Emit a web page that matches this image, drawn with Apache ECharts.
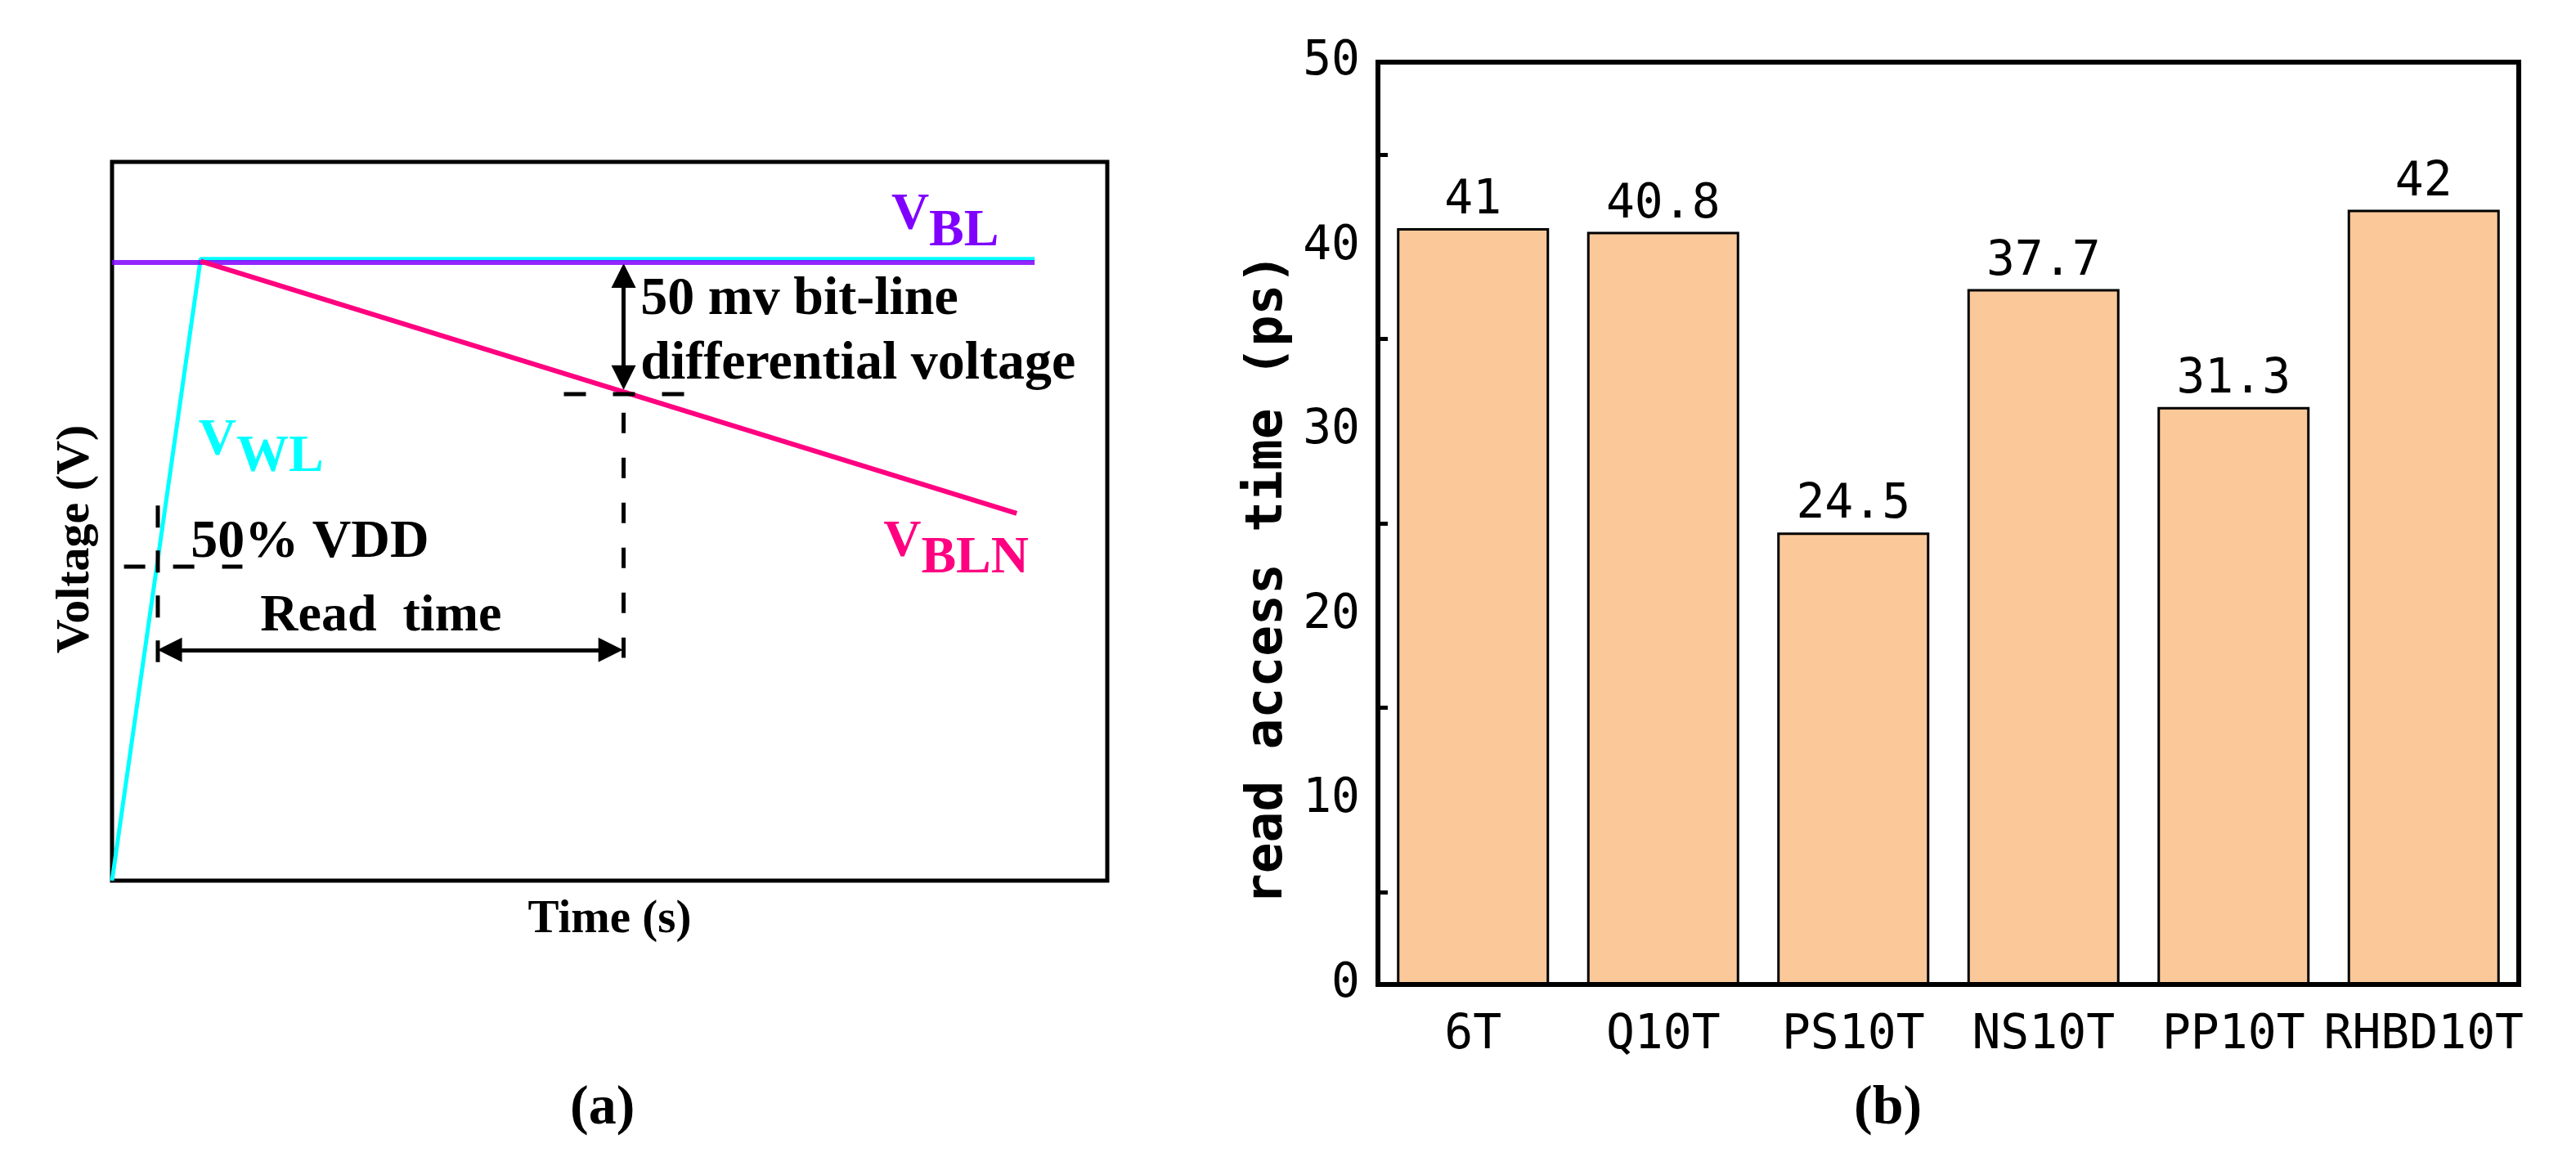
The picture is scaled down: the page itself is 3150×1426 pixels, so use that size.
<!DOCTYPE html>
<html>
<head>
<meta charset="utf-8">
<title>Read time / read access time</title>
<script src="https://cdn.jsdelivr.net/npm/echarts@6/dist/echarts.min.js"></script>
<style>html,body{margin:0;padding:0;background:#fff;}</style>
</head>
<body>
<div id="main" style="width:3150px;height:1426px;"></div>
<script type="text/javascript">
// (b) read access time of each cell
var cells = ['6T', 'Q10T', 'PS10T', 'NS10T', 'PP10T', 'RHBD10T'];
var readTime = [41, 40.8, 24.5, 37.7, 31.3, 42];
var yTicks = [0, 10, 20, 30, 40, 50];

// (a) timing sketch, time and voltage in arbitrary units (0..100)
var vwl = [[0, 0], [8.9, 86.5], [92.7, 86.5]];
var vbl = [[0, 86.0], [92.7, 86.0]];
var vbln = [[8.9, 86.2], [90.9, 51.1]];
var senseDash = [[45.4, 67.7], [57.6, 67.7]];
var senseDrop = [[51.4, 65.1], [51.4, 31.0]];
var halfDash = [[1.2, 43.7], [13.1, 43.7]];
var halfDrop = [[4.6, 52.2], [4.6, 30.4]];
var diffArrow = [[51.4, 84.2], [51.4, 70.0]];
var readArrow = [[5.8, 32.1], [50.1, 32.1]];
var noteNames = ['bl', 'wl', 'bln', 'diff', 'half', 'read'];
var notePoints = [[78.3, 96.2], [8.7, 64.8], [77.5, 50.7], [53.1, 85.3], [7.9, 50.7], [14.9, 40.3]];

var serif = 'Liberation Serif';
var mono = 'DejaVu Sans Mono';

var myChart = echarts.init(document.getElementById('main'));

// V with a same-size subscript dropped below it
function subLabel(main, low, color) {
    var base = {fontFamily: serif, fontWeight: 'bold', fontSize: 64, color: color};
    return {
        formatter: '{v|' + main + '}{s|' + low + '}',
        color: color,
        rich: {
            v: Object.assign({verticalAlign: 'top', lineHeight: 64}, base),
            s: Object.assign({verticalAlign: 'bottom', lineHeight: 84}, base)
        }
    };
}
function plainLabel(text, size, lh) {
    return {formatter: text, fontFamily: serif, fontWeight: 'bold', fontSize: size, lineHeight: lh || size, color: '#000'};
}
var noteLabels = {
    bl: subLabel('V', 'BL', '#8000ff'),
    wl: subLabel('V', 'WL', '#00ffff'),
    bln: subLabel('V', 'BLN', '#ff0080'),
    diff: plainLabel('50 mv bit-line\ndifferential voltage', 66, 79),
    half: plainLabel('50% VDD', 66),
    read: plainLabel('Read  time', 64)
};
var noteData = notePoints.map(function (p, i) {
    return {
        value: p,
        label: Object.assign({show: true, position: [0, 0], align: 'left', verticalAlign: 'top', opacity: 1}, noteLabels[noteNames[i]])
    };
});

function sketchLine(data, color, width, extra) {
    return Object.assign({
        type: 'line', xAxisIndex: 0, yAxisIndex: 0, data: data, symbol: 'none',
        silent: true, animation: false,
        lineStyle: {color: color, width: width}
    }, extra || {});
}
function dashLine(data, dash) {
    return sketchLine(data, '#000', 5, {lineStyle: {color: '#000', width: 5, type: dash}});
}

var option = {
    animation: false,
    backgroundColor: '#fff',
    title: [
        {
            text: '{n|(}{b|a}{n|)}', left: 697, top: 1322, padding: 0,
            textStyle: {rich: {
                n: {fontFamily: serif, fontSize: 68, color: '#000'},
                b: {fontFamily: serif, fontSize: 68, fontWeight: 'bold', color: '#000'}
            }}
        },
        {
            text: '{n|(}{b|b}{n|)}', left: 2267, top: 1322, padding: 0,
            textStyle: {rich: {
                n: {fontFamily: serif, fontSize: 68, color: '#000'},
                b: {fontFamily: serif, fontSize: 68, fontWeight: 'bold', color: '#000'}
            }}
        }
    ],
    grid: [
        {left: 137, top: 198, width: 1217, height: 879, show: true, borderColor: '#000', borderWidth: 5, outerBoundsMode: 'none'},
        {left: 1685, top: 76, width: 1395, height: 1128, show: true, borderColor: '#000', borderWidth: 6, outerBoundsMode: 'none'}
    ],
    xAxis: [
        {
            gridIndex: 0, type: 'value', min: 0, max: 100,
            axisLine: {show: false}, axisTick: {show: false}, axisLabel: {show: false}, splitLine: {show: false},
            name: 'Time (s)', nameLocation: 'middle', nameGap: 20,
            nameTextStyle: {fontFamily: serif, fontWeight: 'bold', fontSize: 57, color: '#000'}
        },
        {
            gridIndex: 1, type: 'category', data: cells,
            axisLine: {show: false}, axisTick: {show: false},
            axisLabel: {interval: 0, margin: 34, fontFamily: mono, fontSize: 58, color: '#000'}
        }
    ],
    yAxis: [
        {
            gridIndex: 0, type: 'value', min: 0, max: 100,
            axisLine: {show: false}, axisTick: {show: false}, axisLabel: {show: false}, splitLine: {show: false},
            name: 'Voltage (V)', nameLocation: 'middle', nameGap: 15,
            nameTextStyle: {fontFamily: serif, fontWeight: 'bold', fontSize: 58, color: '#000', padding: [0, 44, 0, 0]}
        },
        {
            gridIndex: 1, type: 'value',
            min: yTicks[0], max: yTicks[yTicks.length - 1], interval: yTicks[1] - yTicks[0],
            axisLine: {show: false},
            axisTick: {inside: true, length: 24, lineStyle: {color: '#000', width: 5}},
            minorTick: {show: true, splitNumber: 2, length: 12, lineStyle: {color: '#000', width: 5}},
            splitLine: {show: false},
            axisLabel: {margin: 22, fontFamily: mono, fontSize: 58, color: '#000'},
            name: 'read access time (ps)', nameLocation: 'middle', nameGap: 103,
            nameTextStyle: {fontFamily: mono, fontWeight: 'bold', fontSize: 63, color: '#000', padding: [0, 136, 0, 0]}
        }
    ],
    series: [
        sketchLine(vwl, '#00ffff', 5, {z: 2}),
        sketchLine(vbl, '#8000ff', 6, {z: 3, lineStyle: {color: '#8000ff', width: 6, opacity: 0.85}}),
        sketchLine(vbln, '#ff0080', 6, {z: 3}),
        dashLine(senseDash, [27, 33]),
        dashLine(senseDrop, [25, 30]),
        dashLine(halfDash, [26, 34]),
        dashLine(halfDrop, [27, 28]),
        {
            type: 'lines', coordinateSystem: 'cartesian2d', xAxisIndex: 0, yAxisIndex: 0,
            silent: true, animation: false,
            symbol: ['triangle', 'triangle'], symbolSize: 30,
            lineStyle: {color: '#000', width: 5, opacity: 1},
            data: [{coords: diffArrow}, {coords: readArrow}]
        },
        {
            type: 'scatter', xAxisIndex: 0, yAxisIndex: 0, silent: true, z: 5,
            symbolSize: 0.01, itemStyle: {color: '#000'},
            label: {show: true, color: '#000', opacity: 1},
            data: noteData
        },
        {
            type: 'bar', xAxisIndex: 1, yAxisIndex: 1, data: readTime,
            barCategoryGap: '20%',
            itemStyle: {color: '#fbc899', borderColor: '#000', borderWidth: 3},
            label: {show: true, position: 'top', distance: 4, fontFamily: mono, fontSize: 58, color: '#000'}
        }
    ]
};

myChart.setOption(option);
</script>
</body>
</html>
